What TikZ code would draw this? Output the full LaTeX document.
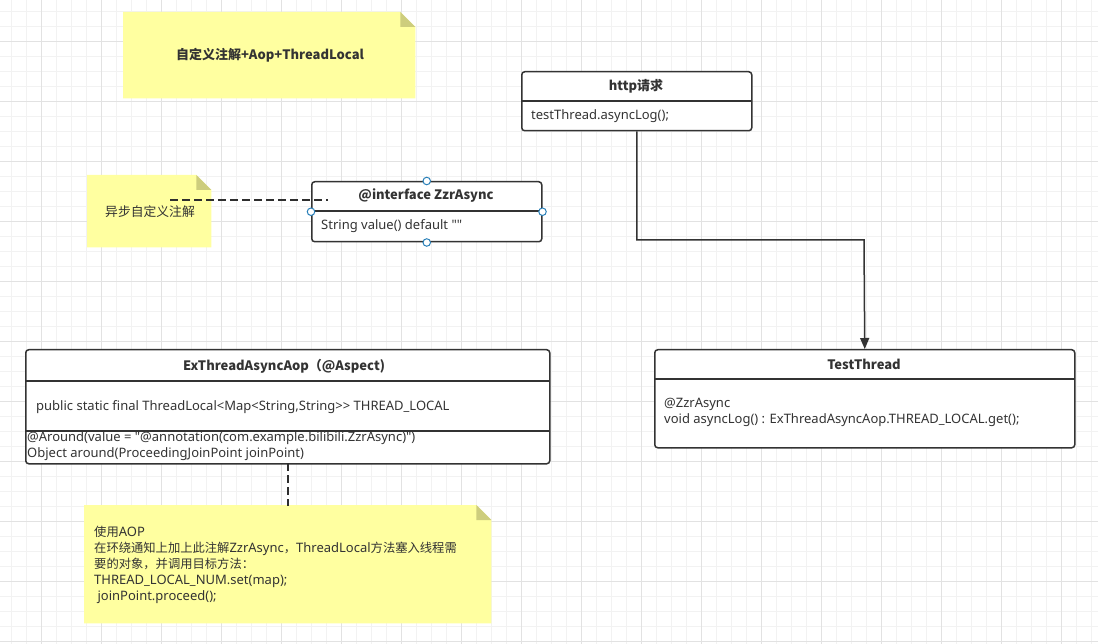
\documentclass[tikz,border=0pt]{standalone}
\usepackage{fontspec}
\setmainfont{Noto Sans}[Ligatures=TeXOff]
\newfontfamily\cjk{Noto Sans CJK SC}[Ligatures=TeXOff]
\newcommand\zh[1]{{\cjk\fontsize{12.3}{16}\selectfont #1}}
\usetikzlibrary{calc,arrows.meta}
\definecolor{ink}{RGB}{51,51,51}
\definecolor{notefill}{RGB}{255,255,160}
\definecolor{notefold}{RGB}{205,205,125}
\definecolor{gridminor}{RGB}{242,242,242}
\definecolor{gridmajor}{RGB}{226,226,226}
\definecolor{handle}{RGB}{41,128,185}
\newcommand\drawnote[1]{%
  \fill[notefill] (#1.north west) -- ($(#1.north east)+(-15,0)$) -- ($(#1.north east)+(0,15)$) -- (#1.south east) -- (#1.south west) -- cycle;
  \fill[notefold] ($(#1.north east)+(-15,0)$) -- ($(#1.north east)+(0,15)$) -- ($(#1.north east)+(-15,15)$) -- cycle;}
\tikzset{
  box/.style={draw=ink, line width=1.5pt, rounded corners=3pt, fill=white, anchor=north west, inner sep=0pt},
  divider/.style={draw=ink, line width=1.2pt},
  title/.style={font=\cjk\bfseries\fontsize{13}{15}\selectfont, text=ink},
  body/.style={font=\fontsize{13.0}{16}\selectfont, text=ink, anchor=west, inner sep=0pt},
  dashline/.style={draw=ink!90!black, line width=2pt, dash pattern=on 8pt off 4pt},
  flow/.style={draw=ink, line width=1.5pt, -{Triangle[length=11pt,width=9pt]}},
  hdl/.style={circle, draw=handle, fill=white, line width=1pt, minimum size=7.5pt, inner sep=0pt},
}
\begin{document}
\begin{tikzpicture}[x=1pt,y=-1pt]
\useasboundingbox (0,0) rectangle (1098,644);
\fill[white] (0,0) rectangle (1098,644);
% grid
\foreach \g in {11,26,...,1098} {\draw[gridminor, line width=0.8pt] (\g,0) -- (\g,644);}
\foreach \g in {11,26,...,644} {\draw[gridminor, line width=0.8pt] (0,\g) -- (1098,\g);}
\foreach \g in {41,101,...,1098} {\draw[gridmajor, line width=0.8pt] (\g,0) -- (\g,644);}
\foreach \g in {41,101,...,644} {\draw[gridmajor, line width=0.8pt] (0,\g) -- (1098,\g);}

% note 1
\node[anchor=north west, minimum width=292pt, minimum height=86pt, inner sep=0pt] (n1) at (123,12) {};
\drawnote{n1}
\node[title] (n1t) at (270,55) {自定义注解+Aop+ThreadLocal};

% note 2
\node[anchor=north west, minimum width=124pt, minimum height=72pt, inner sep=0pt] (n2) at (87,175) {};
\drawnote{n2}
\node[body, anchor=center, font=\cjk\fontsize{12.8}{16}\selectfont] (n2t) at (150,212) {异步自定义注解};

% note 3
\node[anchor=north west, minimum width=407pt, minimum height=118pt, inner sep=0pt] (n3) at (84,505) {};
\drawnote{n3}
\node[body, anchor=north west, align=left] (n3t) at (94,526) {\zh{使用}AOP\\\zh{在环绕通知上加上此注解}ZzrAsync\zh{，}ThreadLocal\zh{方法塞入线程需}\\\zh{要的对象，并调用目标方法：}\\THREAD\_LOCAL\_NUM.set(map);\\\ joinPoint.proceed();};

% ZzrAsync
\node[box, minimum width=230pt, minimum height=60pt] (zzr) at (311,181) {};
\draw[divider] (311,211) -- (541,211);
\node[title] (zzrt) at (426,196) {@interface ZzrAsync};
\node[body] (zzrb) at (321,226) {String value() default ""};

% dashed link note2 -> ZzrAsync
\coordinate (d1) at (170,200);
\coordinate (d2) at (328,200);
\draw[dashline] (d1) -- (d2);

% handles
\node[hdl] (h1) at (zzr.north) {};
\node[hdl] (h2) at (zzr.west) {};
\node[hdl] (h3) at (zzr.east) {};
\node[hdl] (h4) at (zzr.south) {};

% http
\node[box, minimum width=230pt, minimum height=59pt] (http) at (521,71) {};
\draw[divider] (521,101) -- (751,101);
\node[title] (httpt) at (636,86) {http请求};
\node[body] (httpb) at (531,116) {testThread.asyncLog();};

% TestThread
\node[box, minimum width=420pt, minimum height=98pt] (test) at (654,349) {};
\draw[divider] (654,379) -- (1074,379);
\node[title] (testt) at (864,364) {TestThread};
\node[body, anchor=north west, align=left] (testb) at (664,398) {@ZzrAsync\\void asyncLog() : ExThreadAsyncAop.THREAD\_LOCAL.get();};

% connector
\coordinate (bend) at (864,240);
\draw[flow] (http.south) |- (bend) -- (test.north);

% ExThreadAsyncAop
\node[box, minimum width=524pt, minimum height=114pt] (aop) at (25,349) {};
\draw[divider] (25,381) -- (549,381);
\draw[divider] (25,431) -- (549,431);
\node[title] (aopt) at (284,366) {ExThreadAsyncAop（@Aspect)};
\node[body] (aopb) at (36,407) {public static final ThreadLocal<Map<String,String>> THREAD\_LOCAL};
\node[body, anchor=north west, align=left] (aopm) at (27,431) {@Around(value = "@annotation(com.example.bilibili.ZzrAsync)")\\Object around(ProceedingJoinPoint joinPoint)};

% dashed link aop -> note3
\coordinate (d3) at (288,463);
\coordinate (d4) at (288,506);
\draw[dashline] (d3) -- (d4);
\end{tikzpicture}
\end{document}
